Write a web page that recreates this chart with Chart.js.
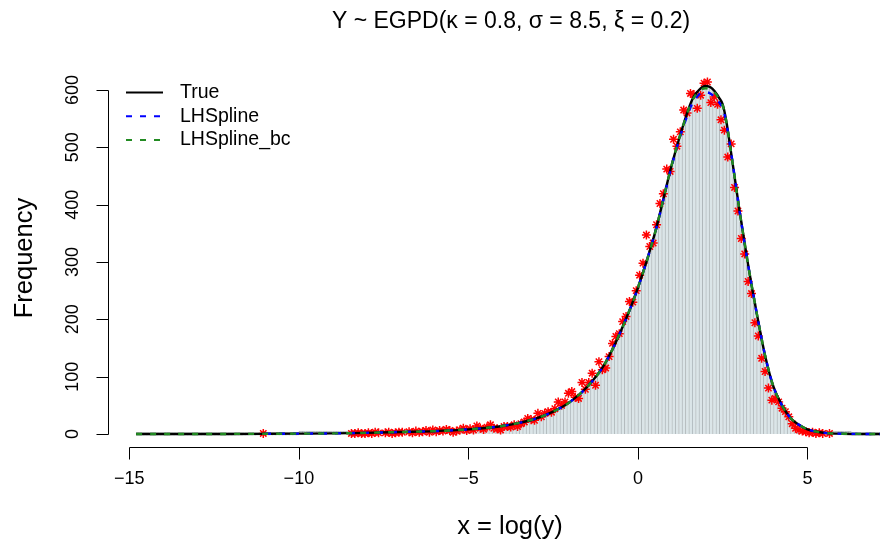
<!DOCTYPE html>
<html>
<head>
<meta charset="utf-8">
<script src="https://cdn.jsdelivr.net/npm/chart.js@4.4.1/dist/chart.umd.min.js"></script>
<style>
  html, body { margin: 0; padding: 0; background: #fff; }
</style>
</head>
<body>
<canvas id="c" width="886" height="544"></canvas>
<script>
// histogram bins: width 0.1, first centre at -14.75 (220 bins up to 7.15)
const binStart = -14.75;
const binWidth = 0.1;

// bar heights (grey histogram)
const barCounts = [
  0,0,0,0,0,0,0,0,0,0,0,0,
  0,0,0,0,0,0,0,0,0,0,0,0,
  0,0,0,0,0,0,0,0,0,0,0,0,
  0,0,0,0,0,0,0,0,0,0,0,0,
  1,1,1,1,1,1,1,1,1,1,1,1,1,1,1,1,1,1,1,1,
  2,2,2,2,3,3,3,3,3,3,
  4,4,4,4,4,4,5,5,5,5,
  5,5,6,6,6,6,7,7,7,8,
  8,8,9,9,10,10,11,12,12,13,
  14,15,16,17,19,20,21,23,24,26,
  28,30,32,34,37,40,43,46,50,54,
  58,62,66,71,77,84,91,99,107,116,
  125,135,146,157,171,186,200,215,231,247,
  264,282,300,320,340,361,383,407,432,458,
  481,503,521,540,558,574,586,596,602,606,
  607,605,600,592,580,560,526,485,448,410,
  370,333,295,260,228,196,165,137,112,91,
  74,61,50,40,32,25,20,16,12,9,
  7,6,5,4,3,3,2,2,1,1,
  1,1,1,0,0,0,0,0,0,0,0,0
];

// observed counts (red stars), null = no point
const starCounts = [
  null,null,null,null,null,null,null,null,null,null,null,null,
  null,null,null,null,null,null,null,null,null,null,null,null,
  null,null,null,null,null,null,null,null,null,null,null,null,
  null,1,null,null,null,null,null,null,null,null,null,null,
  null,null,null,null,null,null,null,null,null,null,null,null,null,null,null,1,1,2,1,1,
  2,1,3,2,null,2,3,1,2,3,
  3,null,4,2,5,3,4,6,3,7,
  4,6,5,8,6,3,5,7,10,6,
  9,7,14,10,8,12,16,10,9,7,
  13,13,12,16,13,18,21,27,25,24,
  36,30,36,39,38,44,56,50,56,71,
  74,64,62,90,78,90,106,85,126,112,
  115,135,158,170,175,196,205,231,230,250,
  277,298,347,327,333,365,402,419,462,458,
  514,502,527,565,560,594,592,568,591,612,
  614,578,588,575,548,530,483,506,430,389,
  341,314,266,245,194,171,132,109,80,59,
  62,56,45,39,30,18,10,7,5,4,
  2,3,1,2,1,null,1,null,null,null,
  null,null,null,null,null,null,null,null,null,null,null,null
];

// fitted curves (in frequency units)
const curveX    = [-14.8,-12,-11,-10,-9,-8,-7,-6,-5,-4.5,-4,-3.5,-3,-2.5,-2,-1.5,-1,-0.5,0,0.5,1,1.25,1.5,1.6,1.7,1.8,1.9,2,2.1,2.2,2.3,2.4,2.5,2.6,2.75,3,3.25,3.5,3.75,4,4.25,4.5,4.75,5,5.5,6,7.2];
const trueY     = [0,0.1,0.3,0.6,1,2,3.5,5,8,10.5,14,19.5,27,39,56,82,120,180,255,350,470,522,568,583,593,600,605,607,606,602,595,586,575,548,490,388,295,212,137,82,50,28,16,8,2,0.5,0];
const splineY   = [null,null,0.3,0.6,1,2,3.5,5,8,10.5,14,19.5,27,39,56,82,120,180,255,350,468,520,562,576,585,592,595,596,595,591,585,578,568,545,490,388,295,212,137,82,50,28,16,8,2,0.5,0];
const splineBcY = [0,0.1,0.3,0.6,1,2,3.5,5,8,10.5,14,19.5,27,39,56,82,120,180,255,350,470,522,567,581,591,598,602,603,602,599,593,584,573,547,490,388,295,212,137,82,50,28,16,8,2,0.5,0];

const xTicks = [-15, -10, -5, 0, 5];
const yTicks = [0, 100, 200, 300, 400, 500, 600];

const titleText = 'Y ~ EGPD(\u03BA = 0.8, \u03C3 = 8.5, \u03BE = 0.2)';
const legendItems = [
  { label: 'True', color: '#000000', dash: [] },
  { label: 'LHSpline', color: '#0000ff', dash: [6, 8] },
  { label: 'LHSpline_bc', color: '#228b22', dash: [6, 8] }
];

const FONT = '"Liberation Sans", Arial, sans-serif';
const minus = v => (v < 0 ? '\u2212' + Math.abs(v) : String(v));

const binCentre = i => +(binStart + i * binWidth).toFixed(2);
const barData = barCounts.map((v, i) => ({ x: binCentre(i), y: v }));
const starData = starCounts.map((v, i) => ({ x: binCentre(i), y: v }));
const toPts = ys => curveX.map((x, i) => ({ x: x, y: ys[i] }));

// R style detached axes, titles and legend
const rDecor = {
  id: 'rDecor',
  afterDraw(chart) {
    const ctx = chart.ctx;
    const xs = chart.scales.x, ys = chart.scales.y;
    const area = chart.chartArea;
    ctx.save();
    ctx.strokeStyle = '#000';
    ctx.fillStyle = '#000';
    ctx.lineWidth = 1;

    // x axis
    const ay = Math.round(area.bottom) + 0.5;
    ctx.beginPath();
    ctx.moveTo(Math.round(xs.getPixelForValue(xTicks[0])) + 0.5, ay);
    ctx.lineTo(Math.round(xs.getPixelForValue(xTicks[xTicks.length - 1])) + 0.5, ay);
    xTicks.forEach(t => {
      const p = Math.round(xs.getPixelForValue(t)) + 0.5;
      ctx.moveTo(p, ay);
      ctx.lineTo(p, ay + 12);
    });
    ctx.stroke();
    ctx.font = '18px ' + FONT;
    ctx.textAlign = 'center';
    ctx.textBaseline = 'middle';
    xTicks.forEach(t => ctx.fillText(minus(t), xs.getPixelForValue(t), 479));

    // y axis
    const ax = Math.round(area.left) + 0.5;
    ctx.beginPath();
    ctx.moveTo(ax, Math.round(ys.getPixelForValue(yTicks[0])) + 0.5);
    ctx.lineTo(ax, Math.round(ys.getPixelForValue(yTicks[yTicks.length - 1])) + 0.5);
    yTicks.forEach(t => {
      const p = Math.round(ys.getPixelForValue(t)) + 0.5;
      ctx.moveTo(ax, p);
      ctx.lineTo(ax - 12, p);
    });
    ctx.stroke();
    yTicks.forEach(t => {
      ctx.save();
      ctx.translate(73, ys.getPixelForValue(t));
      ctx.rotate(-Math.PI / 2);
      ctx.fillText(String(t), 0, 0);
      ctx.restore();
    });

    // axis titles
    ctx.font = '25.5px ' + FONT;
    ctx.fillText('x = log(y)', 510, 527);
    ctx.save();
    ctx.translate(25, 258);
    ctx.rotate(-Math.PI / 2);
    ctx.fillText('Frequency', 0, 0);
    ctx.restore();

    // main title
    ctx.font = '23px ' + FONT;
    ctx.fillText(titleText, 511, 22);

    // legend
    ctx.font = '19.5px ' + FONT;
    ctx.textAlign = 'left';
    legendItems.forEach((it, i) => {
      const y = 92.5 + i * 23.7;
      ctx.beginPath();
      ctx.strokeStyle = it.color;
      ctx.lineWidth = 2;
      ctx.setLineDash(it.dash);
      ctx.moveTo(126, y);
      ctx.lineTo(163, y);
      ctx.stroke();
      ctx.setLineDash([]);
      ctx.fillStyle = '#000';
      ctx.fillText(it.label, 180, y);
    });
    ctx.restore();
  }
};

new Chart(document.getElementById('c'), {
  type: 'bar',
  data: {
    datasets: [
      {
        type: 'line', label: 'LHSpline_bc', data: toPts(splineBcY), order: 1,
        borderColor: '#228b22', borderWidth: 2.4, borderDash: [6, 8], pointRadius: 0,
        cubicInterpolationMode: 'monotone', fill: false
      },
      {
        type: 'line', label: 'LHSpline', data: toPts(splineY), order: 2,
        borderColor: '#0000ff', borderWidth: 2.4, borderDash: [6, 8], pointRadius: 0,
        cubicInterpolationMode: 'monotone', fill: false, spanGaps: false
      },
      {
        type: 'line', label: 'True', data: toPts(trueY), order: 3,
        borderColor: '#000000', borderWidth: 2.4, pointRadius: 0,
        cubicInterpolationMode: 'monotone', fill: false
      },
      {
        type: 'line', label: 'Observed', data: starData, order: 4,
        showLine: false, pointStyle: 'star', pointRadius: 4.5,
        pointBorderColor: '#ff0000', pointBackgroundColor: '#ff0000', pointBorderWidth: 1.5
      },
      {
        type: 'bar', label: 'Histogram', data: barData, order: 5,
        backgroundColor: 'rgb(219,229,232)', borderColor: 'rgb(176,184,187)',
        borderWidth: { left: 1, top: 1, right: 0, bottom: 0 }, borderSkipped: false,
        barPercentage: 1, categoryPercentage: 1, minBarLength: 3
      }
    ]
  },
  options: {
    responsive: false,
    animation: false,
    devicePixelRatio: 1,
    layout: { padding: { left: 108, right: 0, top: 70, bottom: 97 } },
    plugins: { legend: { display: false }, title: { display: false }, tooltip: { enabled: false } },
    scales: {
      x: { type: 'linear', min: -15.63, max: 7.14, display: false, offset: false },
      y: { type: 'linear', min: -22.7, max: 634.9, display: false }
    }
  },
  plugins: [rDecor]
});
</script>
</body>
</html>
